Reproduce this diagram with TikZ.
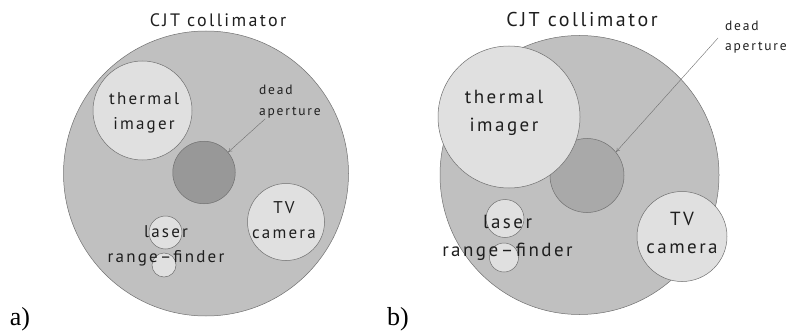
\documentclass[tikz,border=0pt]{standalone}
\usepackage{fontspec}
\usetikzlibrary{arrows.meta}
\setmainfont{Liberation Serif}
\newfontfamily\labfont[LetterSpace=13]{PT Sans}
\definecolor{bodygray}{HTML}{C0C0C0}
\definecolor{lensgray}{HTML}{E0E0E0}
\definecolor{deadgray}{HTML}{989898}
\definecolor{deadgrayb}{HTML}{A9A9A9}
\definecolor{linegray}{HTML}{707070}
\definecolor{textgray}{HTML}{1E1E1E}
\begin{document}
\begin{tikzpicture}[x=1pt,y=-1pt,
    lens/.style={circle, draw=linegray, line width=0.5pt, inner sep=0pt},
    laba/.style={font=\labfont\fontsize{17}{25}\selectfont, text=textgray, align=center, inner sep=0pt},
    labb/.style={font=\labfont\fontsize{19}{28}\selectfont, text=textgray, align=center, inner sep=0pt},
    pointer/.style={draw=linegray, line width=0.4pt, -{To[length=4pt,width=4pt]}}]
    \useasboundingbox (0,0) rectangle (789,334);
    % a) nominal layout
    \node (ca) [lens, fill=bodygray, minimum size=285pt] at (206,173.5) {};
    \node (da) [lens, fill=deadgray, minimum size=62.5pt] at (204,172.5) {};
    \node (ta) [lens, fill=lensgray, minimum size=99pt] at (142.5,110.5) {};
    \node (tva) [lens, fill=lensgray, minimum size=77pt] at (286,222) {};
    \node (la1) [lens, fill=lensgray, minimum size=33pt] at (165.5,232.5) {};
    \node (la2) [lens, fill=lensgray, minimum size=24pt] at (164,265) {};
    \node (cjta) [laba, font=\labfont\fontsize{18}{18}\selectfont] at (218,20) {CJT collimator};
    \node (tlaba) [laba] at (144,112.5) {thermal\\imager};
    \node (tvlaba) [laba] at (284,220) {TV\\camera};
    \node (llaba) [laba] at (166,245.5) {laser\\range–finder};
    \node (dlaba) [laba, font=\labfont\fontsize{13.5}{21}\selectfont, align=left, anchor=west] at (259,101.5) {dead\\aperture};
    \coordinate (pa) at (265,119);
    \draw[pointer] (pa) -- (da.40);
    \node (capa) [font=\fontsize{26}{26}\selectfont] at (20,319) {a)};
    % b) enlarged thermal imager
    \node (cb) [lens, fill=bodygray, minimum size=279pt] at (579.5,175) {};
    \node (db) [lens, fill=deadgrayb, minimum size=74pt] at (587,175.5) {};
    \node (tb) [lens, fill=lensgray, minimum size=142pt] at (509,117) {};
    \node (tvb) [lens, fill=lensgray, minimum size=90pt] at (682,236.5) {};
    \node (lb1) [lens, fill=lensgray, minimum size=38pt] at (505,218.5) {};
    \node (lb2) [lens, fill=lensgray, minimum size=29pt] at (504,257.5) {};
    \node (cjtb) [labb, font=\labfont\fontsize{20}{20}\selectfont] at (582,20) {CJT collimator};
    \node (tlabb) [labb] at (504,113) {thermal\\imager};
    \node (tvlabb) [labb] at (682,233) {TV\\camera};
    \node (llabb) [labb] at (507.5,237.5) {laser\\range–finder};
    \node (dlabb) [labb, font=\labfont\fontsize{13.5}{20}\selectfont, align=left, anchor=west] at (725,37) {dead\\aperture};
    \coordinate (pb) at (718,38);
    \draw[pointer] (pb) -- (db.39);
    \node (capb) [font=\fontsize{26}{26}\selectfont] at (398,319) {b)};
\end{tikzpicture}
\end{document}
